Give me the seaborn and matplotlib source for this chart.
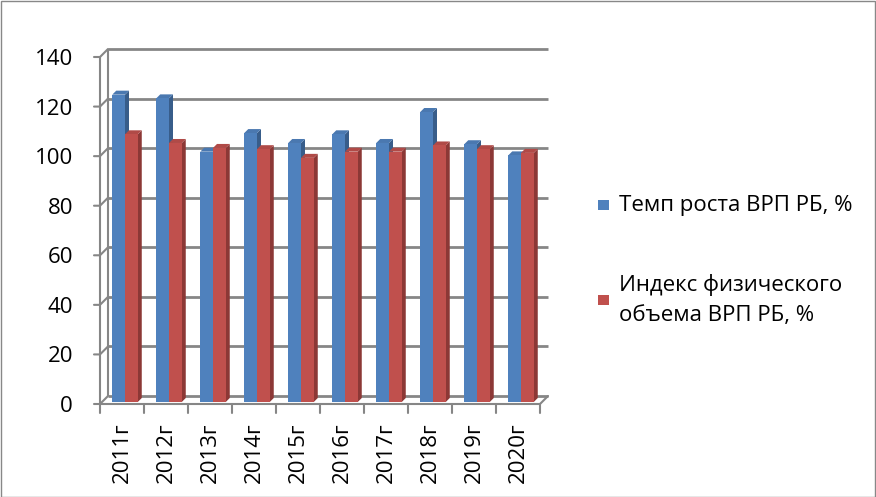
import matplotlib
matplotlib.use("Agg")
import matplotlib.pyplot as plt
import matplotlib.transforms as mtransforms
from matplotlib.patches import Polygon, Rectangle
import seaborn as sns
import pandas as pd

years = ["2011г", "2012г", "2013г", "2014г", "2015г", "2016г", "2017г", "2018г", "2019г", "2020г"]
growth_rate = [124, 122.5, 101, 108.5, 104.5, 108, 104.5, 117, 104, 99.5]
volume_index = [108, 104.5, 102.5, 102, 98.5, 101, 101, 103.5, 102, 100.5]
series_names = ["Темп роста ВРП РБ, %", "Индекс физического\nобъема ВРП РБ, %"]
yticks = [0, 20, 40, 60, 80, 100, 120, 140]

df = pd.DataFrame({
    "year": years * 2,
    "value": growth_rate + volume_index,
    "series": [series_names[0]] * len(years) + [series_names[1]] * len(years),
})

sns.set_theme(style="white")
plt.rcParams["font.family"] = ["Open Sans", "DejaVu Sans"]

W, H, DPI = 876, 497, 100
fig = plt.figure(figsize=(W / DPI, H / DPI), dpi=DPI)
x0p, x1p, ytop, ybot = 100, 540, 57, 404
ax = fig.add_axes([x0p / W, (H - ybot) / H, (x1p - x0p) / W, (ybot - ytop) / H])

front = ["#4F81BD", "#C0504D"]
side = ["#385D8A", "#8C3836"]
topc = ["#4A78B0", "#B04A47"]

sns.barplot(data=df, x="year", y="value", hue="series", palette=front,
            width=0.58, saturation=1, ax=ax, legend=False, zorder=3)
ax.set_ylim(0, 140)
ax.set_xlim(-0.5, len(years) - 0.5)
for s in ax.spines.values():
    s.set_visible(False)
ax.set_xlabel("")
ax.set_ylabel("")
ax.set_yticks(yticks)
ax.tick_params(axis="y", length=0, pad=19.5, labelsize=16, labelcolor="black")
ax.tick_params(axis="x", length=0, pad=13, labelsize=16, labelcolor="black", labelrotation=90)

grid_c = "#868686"
d_wall = 8 / DPI
off = mtransforms.ScaledTranslation(d_wall, d_wall, fig.dpi_scale_trans)
# back wall gridlines
ax.hlines(yticks, 0, 1, transform=ax.get_yaxis_transform() + off,
          colors=grid_c, lw=2, zorder=0, clip_on=False)
# back wall left edge
ax.vlines([0], 0, 1, transform=ax.transAxes + off, colors=grid_c, lw=1.5, zorder=0, clip_on=False)
# front left axis
ax.vlines([0], 0, 1, transform=ax.transAxes, colors=grid_c, lw=1.5, zorder=1, clip_on=False)
# connectors between front axis ticks and back wall
for v in yticks:
    xa, ya = ax.transData.transform((-0.5, v))
    ax.add_line(plt.Line2D([xa - 6, xa, xa + 8], [ya, ya, ya + 8], transform=None,
                           color=grid_c, lw=1.5, zorder=1, clip_on=False))
# front floor edge and right diagonal
ax.hlines([0], 0, 1, transform=ax.get_yaxis_transform(), colors=grid_c, lw=1.5, zorder=1, clip_on=False)
xr, yr = ax.transData.transform((len(years) - 0.5, 0))
ax.add_line(plt.Line2D([xr, xr + 8], [yr, yr + 8], transform=None, color=grid_c, lw=1.5, clip_on=False))
# x ticks at category boundaries
for i in range(len(years) + 1):
    xb, yb = ax.transData.transform((i - 0.5, 0))
    ax.add_line(plt.Line2D([xb, xb], [yb, yb - 9], transform=None, color=grid_c, lw=1.5, clip_on=False))

# pseudo-3D bar faces (bars sit mid-depth, so shift slightly back/right)
shift_px, lift_px = 3, 2
bar_off = mtransforms.ScaledTranslation(shift_px / DPI, lift_px / DPI, fig.dpi_scale_trans)
d = 4
for k, container in enumerate(ax.containers):
    for p in container.patches:
        (bx0, by0), (bx1, by1) = ax.transData.transform(
            [(p.get_x(), 0), (p.get_x() + p.get_width(), p.get_height())])
        bx0 += shift_px; bx1 += shift_px; by0 += lift_px; by1 += lift_px
        p.set_transform(ax.transData + bar_off)
        sidep = Polygon([(bx1, by0), (bx1, by1), (bx1 + d, by1 + d), (bx1 + d, by0 + d)],
                        closed=True, transform=None, facecolor=side[k], edgecolor="none", zorder=2)
        topp = Polygon([(bx0, by1), (bx1, by1), (bx1 + d, by1 + d), (bx0 + d, by1 + d)],
                       closed=True, transform=None, facecolor=topc[k], edgecolor="none", zorder=2)
        ax.add_artist(sidep)
        ax.add_artist(topp)
        p.set_edgecolor("none")

# legend
for k, (ly, name) in enumerate([(205, series_names[0]), (300, series_names[1])]):
    fig.patches.append(Rectangle((598 / W, (H - ly - 5) / H), 11 / W, 10 / H,
                                 transform=fig.transFigure, facecolor=front[k], edgecolor="none"))
    fig.text(619 / W, (H - ly) / H, name, ha="left", va="center", fontsize=16,
             linespacing=1.6, color="black")

# outer frame
fig.patches.append(Rectangle((0.5 / W, 0.5 / H), (W - 1.5) / W, (H - 1.5) / H,
                             transform=fig.transFigure, fill=False, edgecolor="#888888", lw=1))

fig.savefig("out.png", dpi=DPI)
